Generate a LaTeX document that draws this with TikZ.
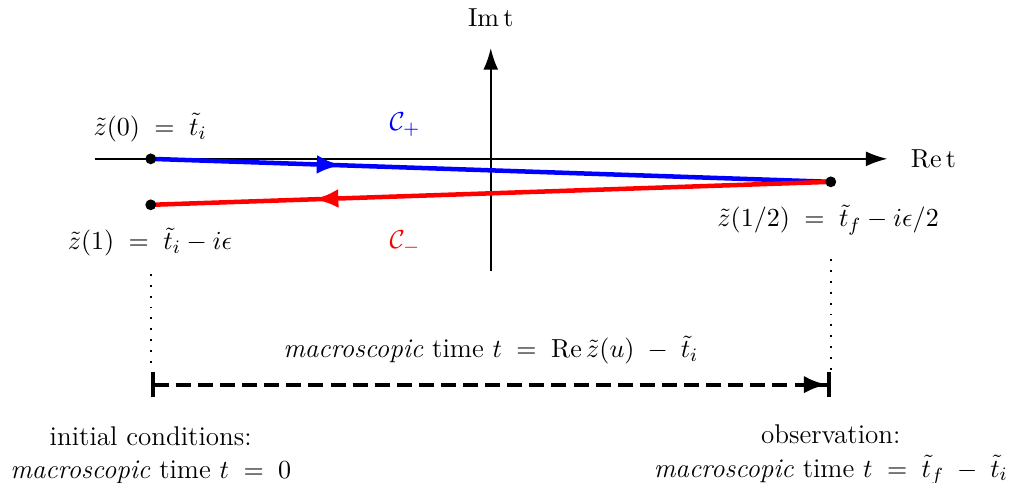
\documentclass[11pt,tikz,border=0pt]{standalone}
\usetikzlibrary{arrows.meta,decorations.markings}
\tikzset{
  contour/.style={line width=1.9pt,postaction={decorate}},
  endpt/.style={circle,fill=black,inner sep=0pt,minimum size=1.6mm},
  guide/.style={line width=0.8pt,dash pattern=on 0.8pt off 3.8pt},
}

\begin{document}
\begin{tikzpicture}[x=1cm,y=1cm,font=\fontsize{11.4}{14}\selectfont]
\useasboundingbox (-7.26,-4.79) rectangle (7.74,2.35);
% axes
\coordinate (xl) at (-5.86,0); \coordinate (xr) at (5.87,0);
\coordinate (yb) at (0,-1.66); \coordinate (yt) at (0,1.64);
\draw[line width=0.9pt,-{Latex[length=3.2mm,width=2.2mm]}] (xl)--(xr);
\draw[line width=0.9pt,-{Latex[length=3.2mm,width=2.2mm]}] (yb)--(yt);
\node (ret) at (6.55,0) {$\mathrm{Re}\,\mathrm{t}$};
\node (imt) at (0,2.09) {$\mathrm{Im}\,\mathrm{t}$};
% contour
\coordinate (z0) at (-5.03,0); \coordinate (zh) at (5.03,-0.34); \coordinate (z1) at (-5.03,-0.68);
\draw[contour,blue,decoration={markings,mark=at position 0.28 with {\arrow{Latex[length=3.6mm,width=2.8mm]}}}] (z0)--(zh);
\draw[contour,red,decoration={markings,mark=at position 0.76 with {\arrow{Latex[length=3.6mm,width=2.8mm]}}}] (zh)--(z1);
\foreach \p in {z0,zh,z1}{\node[endpt] (d\p) at (\p){};}
\node (cplus) at (-1.27,0.50) {$\color{blue}\mathcal{C}_+$};
\node (cminus) at (-1.27,-1.24) {$\color{red}\mathcal{C}_-$};
\node (lz0) at (-5.04,0.46) {$\tilde z(0)\;=\;\tilde t_i$};
\node (lz1) at (-5.04,-1.23) {$\tilde z(1)\;=\;\tilde t_i-i\epsilon$};
\node (lzh) at (4.99,-0.90) {$\tilde z(1/2)\;=\;\tilde t_f-i\epsilon/2$};
% macroscopic time
\coordinate (gl) at (-5.03,-1.70); \coordinate (gr) at (5.03,-1.48);
\coordinate (tl) at (-5.03,-3.34); \coordinate (tr) at (5.03,-3.34);
\draw[guide] (gl)--(-5.03,-3.12); \draw[guide] (gr)--(5.03,-3.12);
\draw[line width=1.7pt,dash pattern=on 6.3pt off 3pt,{Bar[width=3.8mm,line width=1.7pt]}-{Latex[length=3.4mm,width=2.6mm]Bar[width=3.8mm,line width=1.7pt]}] (tl)--(tr);
\node (macro) at (0,-2.83) {\textit{macroscopic} time $t\;=\;\mathrm{Re}\,\tilde z(u)\;-\;\tilde t_i$};
\node[align=center] (init) at (-5.03,-4.38) {initial conditions:\\ \textit{macroscopic} time $t\;=\;0$};
\node[align=center] (obs) at (5.03,-4.38) {observation:\\ \textit{macroscopic} time $t\;=\;\tilde t_f\;-\;\tilde t_i$};
\end{tikzpicture}
\end{document}
